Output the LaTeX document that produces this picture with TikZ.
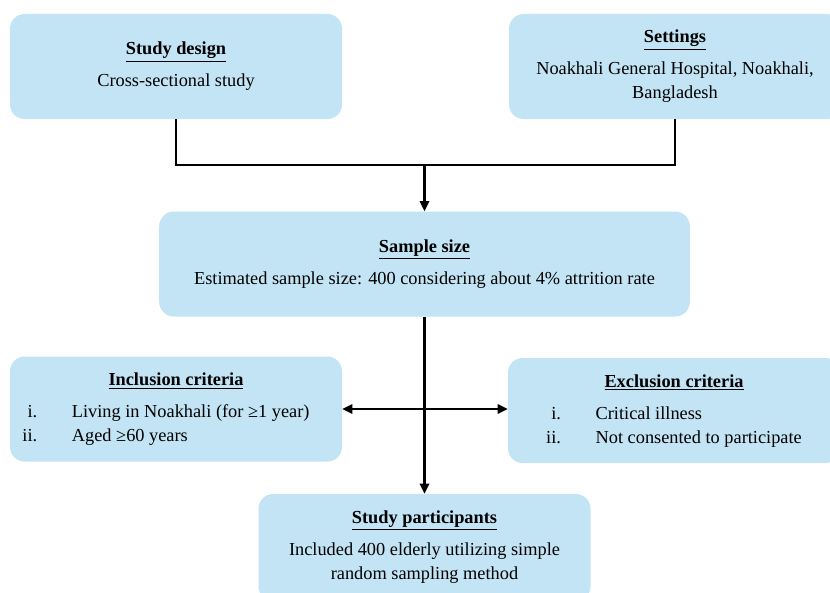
\documentclass[tikz,border=0pt]{standalone}
\usepackage{fontspec}
\setmainfont{Liberation Serif}
\usetikzlibrary{arrows.meta}
\definecolor{boxblue}{RGB}{194,228,244}

\begin{document}
\begin{tikzpicture}[x=0.75pt, y=-0.75pt, font=\fontsize{13.75}{18}\selectfont,
		>={Triangle[length=7.5pt,width=7pt]},
		panel/.style={fill=boxblue, rounded corners=11pt, inner sep=0pt, align=center,
			minimum width=249pt, minimum height=78.75pt},
		link/.style={line width=1.6pt}]
			\clip (0,0) rectangle (830,592);
			% top row
			\node[panel] (design) at (176,66.5) {\underline{\textbf{Study design}}\\[6pt] Cross-sectional study};
			\node[panel] (settings) at (675,66.5) {\underline{\textbf{Settings}}\\[6pt] Noakhali General Hospital, Noakhali,\\ Bangladesh};
			% middle
			\node[panel, minimum width=398pt] (sample) at (424.5,264) {\underline{\textbf{Sample size}}\\[6pt] Estimated sample size: 400 considering about 4\% attrition rate};
			\node[panel] (incl) at (176,409) {\begin{tabular}{@{}r@{\hspace{26pt}}l@{\hspace{15pt}}}
					\multicolumn{2}{c}{\underline{\textbf{Inclusion criteria}}}\\[6pt]
					i. & Living in Noakhali (for ≥1 year)\\
					ii. & Aged ≥60 years
				\end{tabular}};
			\node[panel] (excl) at (674,410.5) {\begin{tabular}{@{}r@{\hspace{26pt}}l@{}}
					\multicolumn{2}{c}{\underline{\textbf{Exclusion criteria}}}\\[6pt]
					i. & Critical illness\\
					ii. & Not consented to participate
				\end{tabular}};
			% bottom
			\node[panel, minimum height=80.25pt] (part) at (424.5,547.5) {\underline{\textbf{Study participants}}\\[6pt] Included 400 elderly utilizing simple\\ random sampling method};
			% connectors
			\coordinate (join) at (424.5,165);
			\draw[link] (design.south) |- (join) -| (settings.south);
			\draw[link,->] (join) -- (sample.north);
			\draw[link,->] (sample.south) -- (part.north);
			\draw[link,<->] (incl.east) -- (incl.east -| excl.west);
		\end{tikzpicture}
\end{document}
